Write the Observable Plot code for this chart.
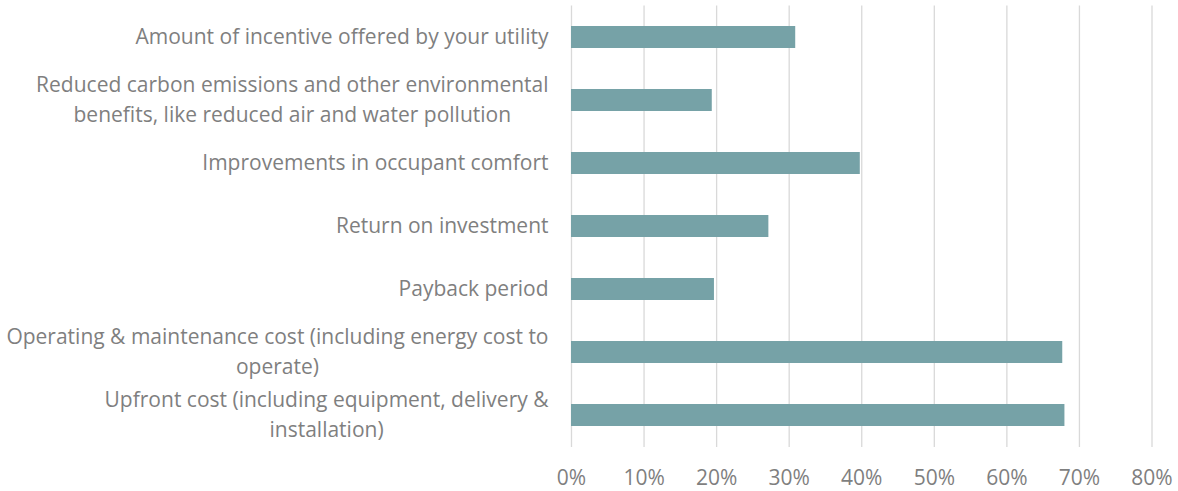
<!DOCTYPE html>
<html>
<head>
<meta charset="utf-8">
<script src="https://cdn.jsdelivr.net/npm/d3@7"></script>
<script src="https://cdn.jsdelivr.net/npm/@observablehq/plot@0.6"></script>
<style>
  html, body { margin: 0; padding: 0; background: #fff; }
  #chart svg { display: block; }
</style>
</head>
<body>
<div id="chart"></div>
<script>
// Categories, top to bottom; each label split into its displayed lines
const labelLines = [
  ["Amount of incentive offered by your utility"],
  ["Reduced carbon emissions and other environmental", "benefits, like reduced air and water pollution"],
  ["Improvements in occupant comfort"],
  ["Return on investment"],
  ["Payback period"],
  ["Operating & maintenance cost (including energy cost to", "operate)"],
  ["Upfront cost (including equipment, delivery &", "installation)"]
];
const categories = labelLines.map(l => l.join(" "));
const values = [30.9, 19.4, 39.8, 27.2, 19.7, 67.7, 68.0];
const xTicks = [0, 10, 20, 30, 40, 50, 60, 70, 80];

const data = categories.map((c, i) => ({category: c, value: values[i]}));

const FONT = "'Open Sans', sans-serif";
const TEXT = "#7f7f7f";
const GAP = 23;

const ctx = document.createElement("canvas").getContext("2d");
ctx.font = `100px ${FONT}`;
// fit the font so the longest label line is as wide as in the reference
const FS = Math.round(100 * 543 / ctx.measureText(labelLines[5][0]).width * 10) / 10;
ctx.font = `${FS}px ${FONT}`;
const blockWidth = lines => Math.max(...lines.map(s => ctx.measureText(s).width));

const labelMarks = labelLines.map((lines, i) =>
  Plot.text([categories[i]], {
    y: d => d,
    frameAnchor: "left",
    text: () => lines.join("\n"),
    textAnchor: "middle",
    lineAnchor: "middle",
    lineHeight: 30 / FS,
    dy: -3,
    dx: -(GAP + blockWidth(lines) / 2),
    fill: TEXT,
    fontSize: FS
  })
);

const chart = Plot.plot({
  width: 1178,
  height: 491,
  marginLeft: 571,
  marginRight: 26.5,
  marginTop: 5.5,
  marginBottom: 44,
  style: {fontFamily: FONT, fontSize: FS + "px", color: TEXT, background: "#fff"},
  x: {domain: [0, 80], ticks: xTicks, tickFormat: d => d + "%", tickSize: 0, tickPadding: 23, label: null},
  y: {domain: categories, paddingInner: 0.643, paddingOuter: 0.3215, axis: null},
  marks: [
    Plot.gridX(xTicks, {stroke: "#d9d9d9", strokeOpacity: 1, strokeWidth: 1.3}),
    Plot.barX(data, {y: "category", x: "value", fill: "#76a2a7"}),
    ...labelMarks
  ]
});
document.getElementById("chart").appendChild(chart);
</script>
</body>
</html>
